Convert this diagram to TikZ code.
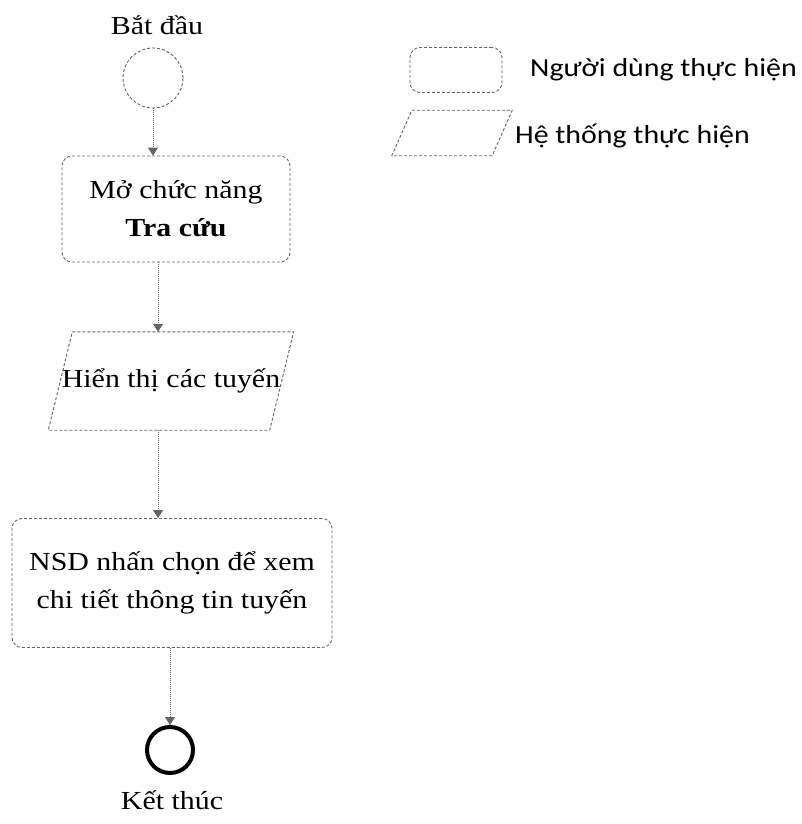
\documentclass[tikz,border=0pt]{standalone}
\usepackage{fontspec}
\setmainfont[FakeStretch=1.15]{Liberation Serif}
\newfontfamily\legendfont[FakeStretch=1.15]{Carlito}
\usetikzlibrary{positioning}
\usetikzlibrary{arrows.meta}
\definecolor{linegray}{RGB}{100,100,100}
\tikzset{
        flownode/.style={align=center,inner sep=0pt,font=\fontsize{26}{38}\selectfont},
        % User actions
        node_user/.style={flownode, rectangle, rounded corners=10pt, draw=linegray, densely dashed, line width=0.9pt},
        % System actions (the slanted edge is drawn after the node)
        node_system/.style={flownode, rectangle},
        system_edge/.style={draw=linegray, densely dashed, line width=0.9pt},
        % Start and end
        node_start/.style={circle, draw=linegray, densely dashed, line width=0.9pt, minimum size=60pt, inner sep=0pt},
        node_end/.style={circle, draw=black, line width=4pt, minimum size=46pt, inner sep=0pt},
        node_label/.style={flownode},
        node_legend/.style={inner sep=0pt, anchor=west, font=\legendfont\fontsize{26}{30}\selectfont},
        flow/.style={draw=linegray, densely dotted, line width=1pt, -{Triangle[width=10pt,length=8pt]}}
}
\begin{document}
\begin{tikzpicture}[x=1pt,y=-1pt]
            \useasboundingbox (0,0) rectangle (801,824);
            \node[node_label] (lbl_start) at (157,25) {Bắt đầu};
            \node[node_start] (start) at (153,78) {};
            \node[node_user, minimum width=228pt, minimum height=106pt] (open) at (176,209) {Mở chức năng\\\textbf{Tra cứu}};
            \node[node_system, minimum width=221pt, minimum height=98pt] (show) at (171,381) {Hiển thị các tuyến};
            \draw[system_edge] ([xshift=12pt]show.north west) -- ([xshift=12pt]show.north east)
                -- ([xshift=-12pt]show.south east) -- ([xshift=-12pt]show.south west) -- cycle;
            \node[node_user, minimum width=320pt, minimum height=129pt] (choose) at (172,583) {NSD nhấn chọn để xem\\chi tiết thông tin tuyến};
            \node[node_end] (stop) at (170,750) {};
            \node[node_label] (lbl_stop) at (172,800) {Kết thúc};
            % legend
            \node[node_user, minimum width=92pt, minimum height=45pt] (key_user) at (456,70) {};
            \node[node_system, minimum width=100pt, minimum height=45pt] (key_system) at (452,133) {};
            \draw[system_edge] ([xshift=10pt]key_system.north west) -- ([xshift=10pt]key_system.north east)
                -- ([xshift=-10pt]key_system.south east) -- ([xshift=-10pt]key_system.south west) -- cycle;
            \node[node_legend] (txt_user) at (530,70) {Người dùng thực hiện};
            \node[node_legend] (txt_system) at (515,136) {Hệ thống thực hiện};
            % flow
            \draw[flow] (start.south) -- (start.south |- open.north);
            \draw[flow] ([xshift=-18pt]open.south) -- ([xshift=-18pt]open.south |- show.north);
            \draw[flow] ([xshift=-18pt]open.south |- show.south) -- ([xshift=-18pt]open.south |- choose.north);
            \draw[flow] (choose.south -| stop.north) -- (stop.north);
\end{tikzpicture}
\end{document}
